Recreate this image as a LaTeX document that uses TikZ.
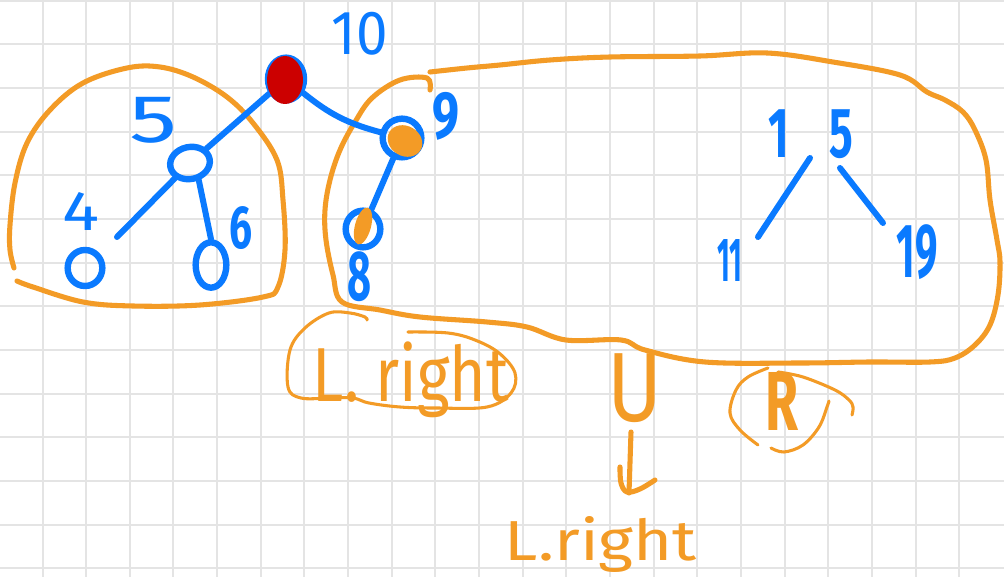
\documentclass[tikz,border=0pt]{standalone}
\usepackage{fontspec}
\usepackage{graphicx}
\setmainfont{Fira Sans}
\usetikzlibrary{shapes.geometric}
\definecolor{pblue}{RGB}{10,122,255}
\definecolor{porange}{RGB}{243,155,38}
\definecolor{pred}{RGB}{204,0,0}
\definecolor{pgrid}{RGB}{228,228,228}
\newdimen\pxu \pxu=0.75pt
\newcommand{\hw}[3]{\resizebox*{#1\pxu}{#2\pxu}{#3}}
\tikzset{
  gridline/.style={pgrid, line width=1.5pt},
  bstroke/.style={pblue, line width=4.5pt, line cap=round, line join=round},
  ostroke/.style={porange, line width=3.8pt, line cap=round, line join=round},
  othin/.style={porange, line width=2.3pt, line cap=round, line join=round},
  bnode/.style={draw=pblue, line width=4.8pt, ellipse, inner sep=0pt},
  blabel/.style={text=pblue, inner sep=0pt},
  olabel/.style={text=porange, inner sep=0pt},
}
\begin{document}
\begin{tikzpicture}[x=0.75pt,y=-0.75pt]
\useasboundingbox (0,0) rectangle (1004,577);
\fill[white] (0,0) rectangle (1004,577);
% grid
\foreach \i in {0,...,22} \draw[gridline] ({42.5+43.65*(\i-1)},0) -- ++(0,577);
\foreach \j in {0,...,13} \draw[gridline] (0,{0.85+43.65*\j}) -- ++(1004,0);

% orange outlines
\draw[ostroke] plot[smooth, tension=0.6] coordinates {(14,268) (10,250) (10,225) (15,183) (27,143) (50,110) (83,83) (127,68) (160,67) (193,77) (227,97) (253,123) (277,160) (283,200) (285,250) (278,287) (263,297) (200,305) (133,306) (83,302) (33,287) (17,281)};
\draw[ostroke] plot[smooth, tension=0.6] coordinates {(430,90) (427,78) (400,80) (372,98) (355,122) (340,150) (330,180) (325,210) (326,240) (333,275) (342,302) (380,310) (420,317) (487,322) (527,327) (566,340) (621,340) (645,350) (705,362) (800,363) (870,362) (930,362) (955,358) (975,345) (990,325) (998,295) (1000,262) (997,240) (990,200) (986,160) (975,130) (963,112) (945,100) (927,92) (900,75) (833,62) (767,53) (700,56) (610,57) (550,60) (500,65) (467,68) (430,72)};

% tree nodes
\node[bnode, minimum width=27pt, minimum height=32pt] (root) at (286,79) {};
\node[bnode, minimum width=30pt, minimum height=24pt, rotate=12] (n5) at (190,163) {};
\node[bnode, minimum width=26pt, minimum height=27pt] (n4) at (85,268) {};
\node[bnode, minimum width=23pt, minimum height=34pt] (n6) at (211,265) {};
\node[bnode, minimum width=29pt, minimum height=29pt] (n9) at (402,138) {};
\node[bnode, minimum width=26pt, minimum height=27.5pt] (n8) at (363,229) {};
\coordinate (e4) at (117,237);

% edges
\draw[bstroke] (root) -- (n5);
\draw[bstroke] (root) to[bend right=12] (n9);
\draw[bstroke] (n5) -- (e4);
\draw[bstroke] (n5.-75) -- (n6.north);
\draw[bstroke] (n9) -- (n8);

% fills
\fill[pred] (285,80) ellipse[x radius=18, y radius=24];
\fill[porange, rotate around={-30:(405,141)}] (405,141) ellipse[x radius=18, y radius=15];
\fill[porange, rotate around={-15:(363,226)}] (363,226) ellipse[x radius=8, y radius=19];

% blue labels
\node[blabel] (l10) at (360,33.5) {\hw{56}{43}{10}};
\node[blabel] (l5) at (154,120) {\hw{48}{46}{5}};
\node[blabel] (l4) at (81,211) {\hw{37}{38}{4}};
\node[blabel] (l6) at (241,228) {\hw{23}{43}{\bfseries 6}};
\node[blabel] (l9) at (446,116) {\hw{27}{48}{\bfseries 9}};
\node[blabel] (l8) at (360,277) {\hw{24}{50}{\bfseries 8}};

% right tree
\node[blabel] (n15) at (811,134.5) {\hw{84}{49}{\bfseries 1\hspace{0.9em}5}};
\node[blabel] (n11) at (729.5,261) {\hw{25}{42}{\bfseries 11}};
\node[blabel] (n19) at (917,252) {\hw{41}{55}{\bfseries 19}};
\coordinate (e15a) at (810,158);
\coordinate (e11) at (758,237);
\coordinate (e15b) at (840,168);
\coordinate (e19) at (883,223);
\draw[bstroke] (e15a) -- (e11);
\draw[bstroke] (e15b) -- (e19);

% orange labels
\node[olabel] (lright1) at (411,380) {\hw{196}{76}{L. right}};
\draw[othin] plot[smooth, tension=0.6] coordinates {(367,320) (365,317) (350,313) (329,313) (305,328) (290,350) (288,387) (301,398) (330,398) (353,398) (369,403) (400,407) (436,408) (487,407) (511,393) (515,373) (499,353) (475,340) (448,333) (408,332)};
\node[olabel] (U) at (635,388) {\hw{55}{69}{U}};
\node[olabel] (lright2) at (601,545) {\hw{192}{56}{L.right}};
\node[olabel] (R) at (782,401) {\hw{33}{58}{\bfseries R}};
\draw[othin] plot[smooth, tension=0.6] coordinates {(768,368) (748,377) (736,390) (730,413) (740,430) (758,445)};
\draw[othin] plot[smooth, tension=0.6] coordinates {(771,448) (784,452) (803,445) (819,427) (827,407) (829,401)};
\draw[othin] plot[smooth, tension=0.6] coordinates {(778,372) (803,377) (835,390) (849,400) (853,407) (852,415)};

% arrow
\coordinate (ar1) at (631,432);
\coordinate (ar2) at (629,493);
\draw[ostroke] (ar1) -- (ar2);
\draw[ostroke] plot[smooth, tension=0.6] coordinates {(620,467) (621,483) (627,492) (640,489) (655,480)};
\end{tikzpicture}
\end{document}
